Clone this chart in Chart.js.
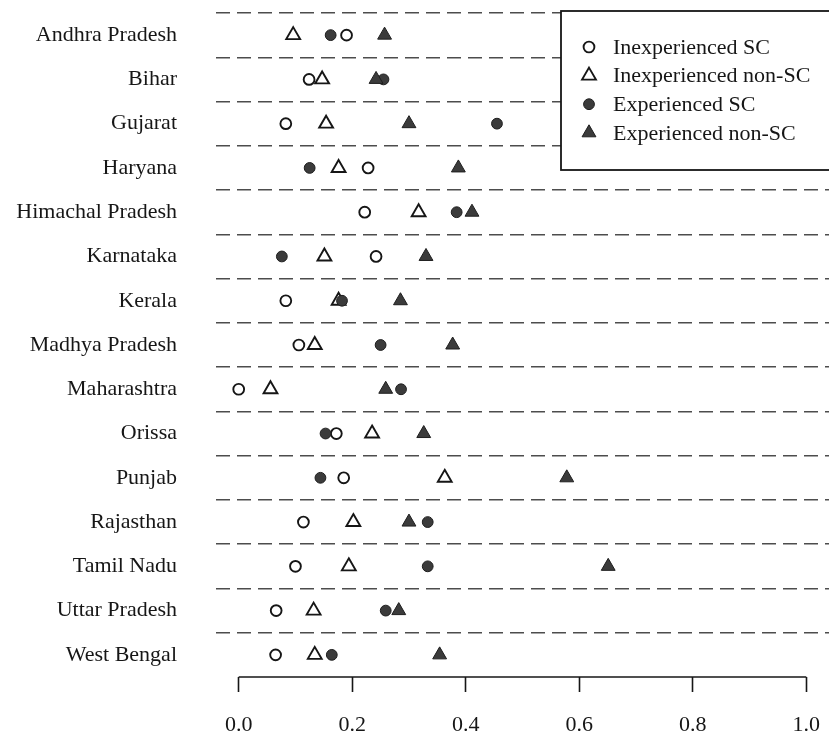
<!DOCTYPE html>
<html>
<head>
<meta charset="utf-8">
<script src="https://cdn.jsdelivr.net/npm/chart.js@4/dist/chart.umd.min.js"></script>
<style>
  html, body { margin: 0; padding: 0; background: #ffffff; }
  #wrap { position: relative; width: 829px; height: 734px; }
</style>
</head>
<body>
<div id="wrap"><canvas id="c" width="829" height="734"></canvas></div>
<script>
// States shown on the vertical axis, top to bottom
const states = [
  'Andhra Pradesh', 'Bihar', 'Gujarat', 'Haryana', 'Himachal Pradesh',
  'Karnataka', 'Kerala', 'Madhya Pradesh', 'Maharashtra', 'Orissa',
  'Punjab', 'Rajasthan', 'Tamil Nadu', 'Uttar Pradesh', 'West Bengal'
];

// Share per state for each group
const inexperiencedSC = [0.190, 0.124, 0.083, 0.228, 0.222, 0.242, 0.083, 0.106, 0.000, 0.172, 0.185, 0.114, 0.100, 0.066, 0.065];
const inexperiencedNonSC = [0.096, 0.147, 0.154, 0.176, 0.317, 0.151, 0.176, 0.134, 0.056, 0.235, 0.363, 0.202, 0.194, 0.132, 0.134];
const experiencedSC = [0.162, 0.255, 0.455, 0.125, 0.384, 0.076, 0.182, 0.250, 0.286, 0.153, 0.144, 0.333, 0.333, 0.259, 0.164];
const experiencedNonSC = [0.257, 0.242, 0.300, 0.387, 0.411, 0.330, 0.285, 0.377, 0.259, 0.326, 0.578, 0.300, 0.651, 0.282, 0.354];

const seriesNames = ['Inexperienced SC', 'Inexperienced non-SC', 'Experienced SC', 'Experienced non-SC'];

// Horizontal axis ticks
const xTickValues = [0.0, 0.2, 0.4, 0.6, 0.8, 1.0];

const FONT = '"Liberation Serif", "DejaVu Serif", serif';
const INK = '#161616';
const FILL = '#3b3b3b';

// later series are painted over earlier ones
function series(label, data, style, filled, drawOrder) {
  const circle = style === 'circle';
  return {
    label,
    data,
    order: drawOrder,
    showLine: false,
    pointStyle: style,
    pointRadius: circle ? 5.4 : 8,
    pointHoverRadius: circle ? 5.4 : 8,
    pointBackgroundColor: filled ? FILL : 'rgba(255,255,255,0)',
    pointBorderColor: filled ? '#1e1e1e' : INK,
    pointBorderWidth: filled ? 1 : 1.9,
    backgroundColor: filled ? FILL : 'rgba(255,255,255,0)',
    borderColor: filled ? '#1e1e1e' : INK
  };
}

// Axis line spanning only the labelled range, plus boxed legend in the top-right corner
const decorations = {
  id: 'decorations',
  afterDraw(chart) {
    const ctx = chart.ctx;
    const area = chart.chartArea;
    const xs = chart.scales.x;

    ctx.save();
    ctx.strokeStyle = INK;
    ctx.lineWidth = 1.6;
    ctx.beginPath();
    ctx.moveTo(xs.getPixelForValue(xTickValues[0]), area.bottom);
    ctx.lineTo(xs.getPixelForValue(xTickValues[xTickValues.length - 1]), area.bottom);
    ctx.stroke();

    // legend box
    const left = area.right - 268;
    const top = area.top - 2;
    const w = 280;
    const h = 159;
    ctx.fillStyle = '#ffffff';
    ctx.fillRect(left, top, w, h);
    ctx.lineWidth = 1.8;
    ctx.strokeStyle = INK;
    ctx.strokeRect(left, top, w, h);

    ctx.font = '22px ' + FONT;
    ctx.textBaseline = 'middle';
    ctx.textAlign = 'left';
    chart.data.datasets.forEach((ds, i) => {
      const cy = top + 36 + i * 28.6;
      const cx = left + 28;
      ctx.fillStyle = ds.pointBackgroundColor;
      ctx.strokeStyle = ds.pointBorderColor;
      ctx.lineWidth = ds.pointBorderWidth;
      Chart.helpers.drawPoint(ctx, {
        pointStyle: ds.pointStyle,
        radius: ds.pointRadius,
        rotation: 0,
        borderWidth: ds.pointBorderWidth
      }, cx, cy);
      ctx.fillStyle = INK;
      ctx.fillText(ds.label, left + 52, cy + 1);
    });
    ctx.restore();
  }
};

new Chart(document.getElementById('c'), {
  type: 'line',
  data: {
    labels: states,
    datasets: [
      series(seriesNames[0], inexperiencedSC, 'circle', false, 4),
      series(seriesNames[1], inexperiencedNonSC, 'triangle', false, 3),
      series(seriesNames[2], experiencedSC, 'circle', true, 2),
      series(seriesNames[3], experiencedNonSC, 'triangle', true, 1)
    ]
  },
  options: {
    indexAxis: 'y',
    responsive: false,
    animation: false,
    events: [],
    layout: { autoPadding: false, padding: { top: 13, right: 0, bottom: 0, left: 0 } },
    plugins: {
      legend: { display: false },
      tooltip: { enabled: false }
    },
    scales: {
      x: {
        type: 'linear',
        position: 'bottom',
        min: -0.04,
        max: 1.04,
        afterBuildTicks: axis => { axis.ticks = xTickValues.map(v => ({ value: v })); },
        afterFit: axis => {
          axis.height = 57;
          axis.paddingLeft = 0;
          axis.paddingRight = 0;
        },
        border: { display: false },
        grid: {
          drawOnChartArea: false,
          drawTicks: true,
          tickLength: 15,
          tickWidth: 1.6,
          tickColor: INK
        },
        ticks: {
          color: INK,
          padding: 20,
          maxRotation: 0,
          autoSkip: false,
          font: { family: FONT, size: 22 },
          callback: v => Number(v).toFixed(1)
        }
      },
      y: {
        type: 'category',
        offset: true,
        afterFit: axis => {
          axis.width = 216;
          axis.paddingTop = 0;
          axis.paddingBottom = 0;
        },
        grid: {
          offset: true,
          drawTicks: false,
          lineWidth: 1.5,
          color: ctx => ctx.tick ? '#4d4d4d' : 'rgba(0,0,0,0)'
        },
        border: { display: false, dash: [14, 7] },
        ticks: {
          color: INK,
          padding: 39,
          autoSkip: false,
          font: { family: FONT, size: 22 }
        }
      }
    }
  },
  plugins: [decorations]
});
</script>
</body>
</html>
